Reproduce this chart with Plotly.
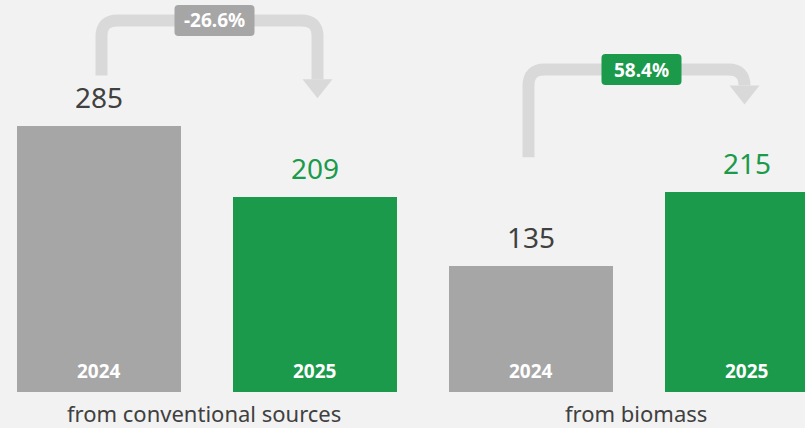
import plotly.graph_objects as go

# values
groups = ["from conventional sources", "from biomass"]
years = ["2024", "2025", "2024", "2025"]
values = [285, 209, 135, 215]
changes = ["-26.6%", "58.4%"]

GRAY = "#a6a6a6"
GREEN = "#1b9a4b"
DARK = "#404040"
ARROW = "#d9d9d9"
BG = "#f2f2f2"
FONT = "Noto Sans"

W, H = 805, 428
PX_X = 216.0     # px per x unit
PX_Y = 0.932     # px per value unit
X0_PX = 98.5     # px of first bar centre
Y0_PX = 392      # px of value zero

xs = list(range(len(values)))
bar_colors = [GRAY if y == "2024" else GREEN for y in years]
label_colors = [DARK if y == "2024" else GREEN for y in years]


def dx(px):
    return px / PX_X


def dy(px):
    return px / PX_Y


fig = go.Figure()
fig.add_trace(go.Bar(
    x=xs, y=values, width=dx(164),
    marker=dict(color=bar_colors, line=dict(width=0)),
    hoverinfo="skip", showlegend=False,
))

annotations = []
shapes = []

# value labels above bars and year labels inside bars
for x, v, yr, c in zip(xs, values, years, label_colors):
    annotations.append(dict(x=x, y=v, text=str(v), showarrow=False, yanchor="bottom",
                            yshift=8, font=dict(family=FONT, size=28, color=c)))
    annotations.append(dict(x=x, y=0, text=yr, showarrow=False, yanchor="bottom",
                            yshift=6, font=dict(family=FONT, size=19, color="white", weight="bold")))

# group labels under each pair
for i, g in enumerate(groups):
    annotations.append(dict(x=2 * i + 0.5, y=0, text=g, showarrow=False, yanchor="top",
                            xshift=-3, yshift=-4, font=dict(family=FONT, size=22, color=DARK)))

# change arrows (offsets in px relative to the bars)
lift_start = [51, 109]
lift_top = [106, 122]
lift_tip = [99, 87]
shift_x = [3, -2]
r = 16
head_w, head_h = 15, 19
box_w, box_h = 80, 31

for i, chg in enumerate(changes):
    a, b = 2 * i, 2 * i + 1
    x0 = xs[a] + dx(shift_x[i])
    x1 = xs[b] + dx(shift_x[i])
    ys = values[a] + dy(lift_start[i])
    yt = max(values[a], values[b]) + dy(lift_top[i])
    ytip = values[b] + dy(lift_tip[i])
    ybase = ytip + dy(head_h)
    rx, ry = dx(r), dy(r)
    path = (f"M {x0},{ys} L {x0},{yt - ry} Q {x0},{yt} {x0 + rx},{yt} "
            f"L {x1 - rx},{yt} Q {x1},{yt} {x1},{yt - ry} L {x1},{ybase}")
    shapes.append(dict(type="path", path=path, line=dict(color=ARROW, width=12),
                       xref="x", yref="y", layer="below"))
    hw = dx(head_w)
    shapes.append(dict(type="path", xref="x", yref="y", layer="below",
                       path=f"M {x1 - hw},{ybase} L {x1 + hw},{ybase} L {x1},{ytip} Z",
                       fillcolor=ARROW, line=dict(width=0)))

    # rounded label box
    xm = (x0 + x1) / 2 + dx(5)
    bw, bh, br = dx(box_w / 2), dy(box_h / 2), 4
    brx, bry = dx(br), dy(br)
    l, rr, t, bt = xm - bw, xm + bw, yt + bh, yt - bh
    box = (f"M {l + brx},{t} L {rr - brx},{t} Q {rr},{t} {rr},{t - bry} "
           f"L {rr},{bt + bry} Q {rr},{bt} {rr - brx},{bt} L {l + brx},{bt} "
           f"Q {l},{bt} {l},{bt + bry} L {l},{t - bry} Q {l},{t} {l + brx},{t} Z")
    box_color = GRAY if chg.startswith("-") else GREEN
    shapes.append(dict(type="path", path=box, xref="x", yref="y",
                       fillcolor=box_color, line=dict(width=0)))
    annotations.append(dict(x=xm, y=yt, text=chg, showarrow=False,
                            font=dict(family=FONT, size=19, color="white", weight="bold")))

fig.update_layout(
    width=W, height=H,
    margin=dict(l=0, r=0, t=0, b=0),
    paper_bgcolor=BG, plot_bgcolor=BG,
    xaxis=dict(range=[-X0_PX / PX_X, (W - X0_PX) / PX_X], visible=False, fixedrange=True),
    yaxis=dict(range=[-(H - Y0_PX) / PX_Y, Y0_PX / PX_Y], visible=False, fixedrange=True),
    annotations=annotations,
    shapes=shapes,
    bargap=0,
)

fig.write_html("out.html", config={"displayModeBar": False},
               post_script="document.body.style.margin='0';")
